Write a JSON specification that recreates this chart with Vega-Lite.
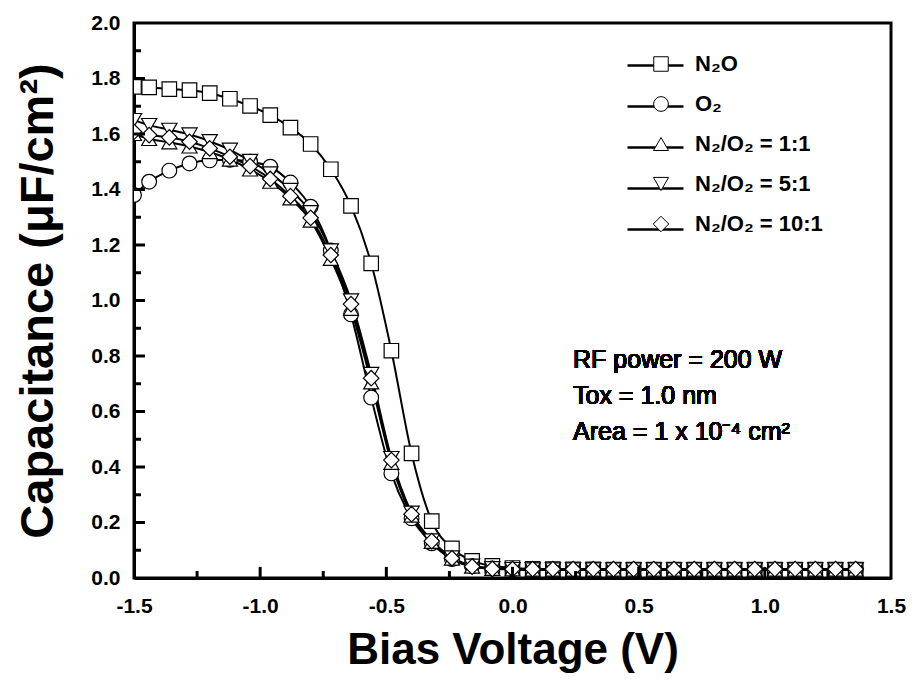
{
  "$schema": "https://vega.github.io/schema/vega-lite/v6.json",
  "width": 757,
  "height": 555,
  "autosize": "none",
  "padding": {"left": 134, "top": 23, "right": 23, "bottom": 105},
  "background": "white",
  "config": {"view": {"stroke": "black", "strokeWidth": 3}, "font": "Liberation Sans"},
  "resolve": {"axis": {"x": "independent", "y": "independent"}},
  "datasets": {
    "tk": [
      {"ax":"x","k":"M","t":-1},{"ax":"x","k":"M","t":-0.5},{"ax":"x","k":"M","t":0},{"ax":"x","k":"M","t":0.5},{"ax":"x","k":"M","t":1},
      {"ax":"x","k":"m","t":-1.25},{"ax":"x","k":"m","t":-0.75},{"ax":"x","k":"m","t":-0.25},{"ax":"x","k":"m","t":0.25},{"ax":"x","k":"m","t":0.75},{"ax":"x","k":"m","t":1.25},
      {"ax":"y","k":"M","t":0.2},{"ax":"y","k":"M","t":0.4},{"ax":"y","k":"M","t":0.6},{"ax":"y","k":"M","t":0.8},{"ax":"y","k":"M","t":1.0},{"ax":"y","k":"M","t":1.2},{"ax":"y","k":"M","t":1.4},{"ax":"y","k":"M","t":1.6},{"ax":"y","k":"M","t":1.8},
      {"ax":"y","k":"m","t":0.1},{"ax":"y","k":"m","t":0.3},{"ax":"y","k":"m","t":0.5},{"ax":"y","k":"m","t":0.7},{"ax":"y","k":"m","t":0.9},{"ax":"y","k":"m","t":1.1},{"ax":"y","k":"m","t":1.3},{"ax":"y","k":"m","t":1.5},{"ax":"y","k":"m","t":1.7},{"ax":"y","k":"m","t":1.9}
    ],
    "cv": [
      {"s":"N₂O","v":-1.5,"c":1.77},{"s":"N₂O","v":-1.44,"c":1.768},{"s":"N₂O","v":-1.36,"c":1.762},{"s":"N₂O","v":-1.28,"c":1.758},{"s":"N₂O","v":-1.2,"c":1.747},{"s":"N₂O","v":-1.12,"c":1.727},{"s":"N₂O","v":-1.04,"c":1.701},{"s":"N₂O","v":-0.96,"c":1.668},{"s":"N₂O","v":-0.88,"c":1.623},{"s":"N₂O","v":-0.8,"c":1.564},{"s":"N₂O","v":-0.72,"c":1.473},{"s":"N₂O","v":-0.64,"c":1.341},{"s":"N₂O","v":-0.56,"c":1.134},{"s":"N₂O","v":-0.48,"c":0.819},{"s":"N₂O","v":-0.4,"c":0.449},{"s":"N₂O","v":-0.32,"c":0.205},{"s":"N₂O","v":-0.24,"c":0.107},{"s":"N₂O","v":-0.16,"c":0.062},{"s":"N₂O","v":-0.08,"c":0.044},{"s":"N₂O","v":0,"c":0.036},{"s":"N₂O","v":0.08,"c":0.033},{"s":"N₂O","v":0.16,"c":0.032},{"s":"N₂O","v":0.24,"c":0.031},{"s":"N₂O","v":0.32,"c":0.031},{"s":"N₂O","v":0.4,"c":0.03},{"s":"N₂O","v":0.48,"c":0.03},{"s":"N₂O","v":0.56,"c":0.03},{"s":"N₂O","v":0.64,"c":0.03},{"s":"N₂O","v":0.72,"c":0.03},{"s":"N₂O","v":0.8,"c":0.03},{"s":"N₂O","v":0.88,"c":0.03},{"s":"N₂O","v":0.96,"c":0.03},{"s":"N₂O","v":1.04,"c":0.03},{"s":"N₂O","v":1.12,"c":0.03},{"s":"N₂O","v":1.2,"c":0.03},{"s":"N₂O","v":1.28,"c":0.03},{"s":"N₂O","v":1.36,"c":0.03},
      {"s":"O₂","v":-1.5,"c":1.38},{"s":"O₂","v":-1.44,"c":1.428},{"s":"O₂","v":-1.36,"c":1.468},{"s":"O₂","v":-1.28,"c":1.494},{"s":"O₂","v":-1.2,"c":1.505},{"s":"O₂","v":-1.12,"c":1.507},{"s":"O₂","v":-1.04,"c":1.5},{"s":"O₂","v":-0.96,"c":1.482},{"s":"O₂","v":-0.88,"c":1.425},{"s":"O₂","v":-0.8,"c":1.338},{"s":"O₂","v":-0.72,"c":1.18},{"s":"O₂","v":-0.64,"c":0.95},{"s":"O₂","v":-0.56,"c":0.65},{"s":"O₂","v":-0.48,"c":0.377},{"s":"O₂","v":-0.4,"c":0.215},{"s":"O₂","v":-0.32,"c":0.125},{"s":"O₂","v":-0.24,"c":0.068},{"s":"O₂","v":-0.16,"c":0.042},{"s":"O₂","v":-0.08,"c":0.034},{"s":"O₂","v":0,"c":0.031},{"s":"O₂","v":0.08,"c":0.03},{"s":"O₂","v":0.16,"c":0.03},{"s":"O₂","v":0.24,"c":0.03},{"s":"O₂","v":0.32,"c":0.03},{"s":"O₂","v":0.4,"c":0.03},{"s":"O₂","v":0.48,"c":0.03},{"s":"O₂","v":0.56,"c":0.03},{"s":"O₂","v":0.64,"c":0.03},{"s":"O₂","v":0.72,"c":0.03},{"s":"O₂","v":0.8,"c":0.03},{"s":"O₂","v":0.88,"c":0.03},{"s":"O₂","v":0.96,"c":0.03},{"s":"O₂","v":1.04,"c":0.03},{"s":"O₂","v":1.12,"c":0.03},{"s":"O₂","v":1.2,"c":0.03},{"s":"O₂","v":1.28,"c":0.03},{"s":"O₂","v":1.36,"c":0.03},
      {"s":"N₂/O₂ = 1:1","v":-1.5,"c":1.6},{"s":"N₂/O₂ = 1:1","v":-1.44,"c":1.582},{"s":"N₂/O₂ = 1:1","v":-1.36,"c":1.57},{"s":"N₂/O₂ = 1:1","v":-1.28,"c":1.555},{"s":"N₂/O₂ = 1:1","v":-1.2,"c":1.535},{"s":"N₂/O₂ = 1:1","v":-1.12,"c":1.508},{"s":"N₂/O₂ = 1:1","v":-1.04,"c":1.472},{"s":"N₂/O₂ = 1:1","v":-0.96,"c":1.428},{"s":"N₂/O₂ = 1:1","v":-0.88,"c":1.368},{"s":"N₂/O₂ = 1:1","v":-0.8,"c":1.288},{"s":"N₂/O₂ = 1:1","v":-0.72,"c":1.15},{"s":"N₂/O₂ = 1:1","v":-0.64,"c":0.97},{"s":"N₂/O₂ = 1:1","v":-0.56,"c":0.705},{"s":"N₂/O₂ = 1:1","v":-0.48,"c":0.415},{"s":"N₂/O₂ = 1:1","v":-0.4,"c":0.225},{"s":"N₂/O₂ = 1:1","v":-0.32,"c":0.13},{"s":"N₂/O₂ = 1:1","v":-0.24,"c":0.07},{"s":"N₂/O₂ = 1:1","v":-0.16,"c":0.041},{"s":"N₂/O₂ = 1:1","v":-0.08,"c":0.033},{"s":"N₂/O₂ = 1:1","v":0,"c":0.031},{"s":"N₂/O₂ = 1:1","v":0.08,"c":0.03},{"s":"N₂/O₂ = 1:1","v":0.16,"c":0.03},{"s":"N₂/O₂ = 1:1","v":0.24,"c":0.03},{"s":"N₂/O₂ = 1:1","v":0.32,"c":0.03},{"s":"N₂/O₂ = 1:1","v":0.4,"c":0.03},{"s":"N₂/O₂ = 1:1","v":0.48,"c":0.03},{"s":"N₂/O₂ = 1:1","v":0.56,"c":0.03},{"s":"N₂/O₂ = 1:1","v":0.64,"c":0.03},{"s":"N₂/O₂ = 1:1","v":0.72,"c":0.03},{"s":"N₂/O₂ = 1:1","v":0.8,"c":0.03},{"s":"N₂/O₂ = 1:1","v":0.88,"c":0.03},{"s":"N₂/O₂ = 1:1","v":0.96,"c":0.03},{"s":"N₂/O₂ = 1:1","v":1.04,"c":0.03},{"s":"N₂/O₂ = 1:1","v":1.12,"c":0.03},{"s":"N₂/O₂ = 1:1","v":1.2,"c":0.03},{"s":"N₂/O₂ = 1:1","v":1.28,"c":0.03},{"s":"N₂/O₂ = 1:1","v":1.36,"c":0.03},
      {"s":"N₂/O₂ = 5:1","v":-1.5,"c":1.65},{"s":"N₂/O₂ = 5:1","v":-1.44,"c":1.632},{"s":"N₂/O₂ = 5:1","v":-1.36,"c":1.615},{"s":"N₂/O₂ = 5:1","v":-1.28,"c":1.598},{"s":"N₂/O₂ = 5:1","v":-1.2,"c":1.574},{"s":"N₂/O₂ = 5:1","v":-1.12,"c":1.543},{"s":"N₂/O₂ = 5:1","v":-1.04,"c":1.503},{"s":"N₂/O₂ = 5:1","v":-0.96,"c":1.458},{"s":"N₂/O₂ = 5:1","v":-0.88,"c":1.398},{"s":"N₂/O₂ = 5:1","v":-0.8,"c":1.318},{"s":"N₂/O₂ = 5:1","v":-0.72,"c":1.18},{"s":"N₂/O₂ = 5:1","v":-0.64,"c":1.0},{"s":"N₂/O₂ = 5:1","v":-0.56,"c":0.735},{"s":"N₂/O₂ = 5:1","v":-0.48,"c":0.432},{"s":"N₂/O₂ = 5:1","v":-0.4,"c":0.235},{"s":"N₂/O₂ = 5:1","v":-0.32,"c":0.135},{"s":"N₂/O₂ = 5:1","v":-0.24,"c":0.074},{"s":"N₂/O₂ = 5:1","v":-0.16,"c":0.044},{"s":"N₂/O₂ = 5:1","v":-0.08,"c":0.035},{"s":"N₂/O₂ = 5:1","v":0,"c":0.032},{"s":"N₂/O₂ = 5:1","v":0.08,"c":0.031},{"s":"N₂/O₂ = 5:1","v":0.16,"c":0.031},{"s":"N₂/O₂ = 5:1","v":0.24,"c":0.031},{"s":"N₂/O₂ = 5:1","v":0.32,"c":0.031},{"s":"N₂/O₂ = 5:1","v":0.4,"c":0.031},{"s":"N₂/O₂ = 5:1","v":0.48,"c":0.031},{"s":"N₂/O₂ = 5:1","v":0.56,"c":0.031},{"s":"N₂/O₂ = 5:1","v":0.64,"c":0.031},{"s":"N₂/O₂ = 5:1","v":0.72,"c":0.031},{"s":"N₂/O₂ = 5:1","v":0.8,"c":0.031},{"s":"N₂/O₂ = 5:1","v":0.88,"c":0.031},{"s":"N₂/O₂ = 5:1","v":0.96,"c":0.031},{"s":"N₂/O₂ = 5:1","v":1.04,"c":0.031},{"s":"N₂/O₂ = 5:1","v":1.12,"c":0.031},{"s":"N₂/O₂ = 5:1","v":1.2,"c":0.031},{"s":"N₂/O₂ = 5:1","v":1.28,"c":0.031},{"s":"N₂/O₂ = 5:1","v":1.36,"c":0.031},
      {"s":"N₂/O₂ = 10:1","v":-1.5,"c":1.608},{"s":"N₂/O₂ = 10:1","v":-1.44,"c":1.596},{"s":"N₂/O₂ = 10:1","v":-1.36,"c":1.588},{"s":"N₂/O₂ = 10:1","v":-1.28,"c":1.572},{"s":"N₂/O₂ = 10:1","v":-1.2,"c":1.548},{"s":"N₂/O₂ = 10:1","v":-1.12,"c":1.518},{"s":"N₂/O₂ = 10:1","v":-1.04,"c":1.484},{"s":"N₂/O₂ = 10:1","v":-0.96,"c":1.438},{"s":"N₂/O₂ = 10:1","v":-0.88,"c":1.376},{"s":"N₂/O₂ = 10:1","v":-0.8,"c":1.298},{"s":"N₂/O₂ = 10:1","v":-0.72,"c":1.164},{"s":"N₂/O₂ = 10:1","v":-0.64,"c":0.987},{"s":"N₂/O₂ = 10:1","v":-0.56,"c":0.72},{"s":"N₂/O₂ = 10:1","v":-0.48,"c":0.425},{"s":"N₂/O₂ = 10:1","v":-0.4,"c":0.23},{"s":"N₂/O₂ = 10:1","v":-0.32,"c":0.133},{"s":"N₂/O₂ = 10:1","v":-0.24,"c":0.071},{"s":"N₂/O₂ = 10:1","v":-0.16,"c":0.041},{"s":"N₂/O₂ = 10:1","v":-0.08,"c":0.033},{"s":"N₂/O₂ = 10:1","v":0,"c":0.032},{"s":"N₂/O₂ = 10:1","v":0.08,"c":0.032},{"s":"N₂/O₂ = 10:1","v":0.16,"c":0.032},{"s":"N₂/O₂ = 10:1","v":0.24,"c":0.032},{"s":"N₂/O₂ = 10:1","v":0.32,"c":0.032},{"s":"N₂/O₂ = 10:1","v":0.4,"c":0.032},{"s":"N₂/O₂ = 10:1","v":0.48,"c":0.032},{"s":"N₂/O₂ = 10:1","v":0.56,"c":0.032},{"s":"N₂/O₂ = 10:1","v":0.64,"c":0.032},{"s":"N₂/O₂ = 10:1","v":0.72,"c":0.032},{"s":"N₂/O₂ = 10:1","v":0.8,"c":0.032},{"s":"N₂/O₂ = 10:1","v":0.88,"c":0.032},{"s":"N₂/O₂ = 10:1","v":0.96,"c":0.032},{"s":"N₂/O₂ = 10:1","v":1.04,"c":0.032},{"s":"N₂/O₂ = 10:1","v":1.12,"c":0.032},{"s":"N₂/O₂ = 10:1","v":1.2,"c":0.032},{"s":"N₂/O₂ = 10:1","v":1.28,"c":0.032},{"s":"N₂/O₂ = 10:1","v":1.36,"c":0.032}
    ]
  },
  "layer": [
    {
      "data": {"name": "cv"},
      "mark": {"type": "line", "strokeWidth": 2, "interpolate": "monotone", "clip": true},
      "encoding": {
        "x": {
          "field": "v", "type": "quantitative",
          "scale": {"domain": [-1.5, 1.5], "nice": false, "zero": false},
          "axis": {
            "orient": "bottom",
            "title": "Bias Voltage (V)",
            "values": [-1.5, -1, -0.5, 0, 0.5, 1, 1.5],
            "labelExpr": "replace(format(datum.value,'.1f'),'\u2212','-')",
            "labelFont": "Liberation Sans", "labelFontWeight": "bold", "labelFontSize": 21, "labelColor": "black",
            "labelPadding": 17, "labelFlush": false, "labelOverlap": false, "labelBound": false,
            "ticks": false,
            "domainColor": "black", "domainWidth": 3, "grid": false,
            "titleFont": "Liberation Sans", "titleFontWeight": "bold", "titleFontSize": 44, "titleColor": "black", "titlePadding": 12
          }
        },
        "y": {
          "field": "c", "type": "quantitative",
          "scale": {"domain": [0, 2], "nice": false},
          "axis": {
            "orient": "left",
            "title": "Capacitance (μF/cm²)",
            "values": [0, 0.2, 0.4, 0.6, 0.8, 1, 1.2, 1.4, 1.6, 1.8, 2],
            "format": ".1f",
            "labelFont": "Liberation Sans", "labelFontWeight": "bold", "labelFontSize": 21, "labelColor": "black",
            "labelPadding": 14, "labelFlush": false, "labelOverlap": false, "labelBound": false,
            "ticks": false,
            "domainColor": "black", "domainWidth": 3, "grid": false,
            "titleFont": "Liberation Sans", "titleFontWeight": "bold", "titleFontSize": 47, "titleColor": "black", "titlePadding": 28
          }
        },
        "color": {
          "field": "s", "type": "nominal",
          "scale": {"domain": ["N₂/O₂ = 10:1", "N₂/O₂ = 5:1", "N₂/O₂ = 1:1", "O₂", "N₂O"], "range": ["black", "black", "black", "black", "black"]},
          "legend": {
            "title": null, "orient": "none", "legendX": 492, "legendY": 13, "direction": "vertical", "padding": 0,
            "labelFont": "Liberation Sans", "labelFontWeight": "bold", "labelFontSize": 22, "labelOpacity": 0, "labelLimit": 1, "labelOffset": -40,
            "rowPadding": -2, "symbolType": "stroke", "symbolSize": 3136, "symbolStrokeWidth": 2.5, "symbolStrokeColor": "black"
          }
        }
      }
    },
    {
      "data": {"name": "cv"},
      "mark": {"type": "point", "filled": true, "fill": "white", "stroke": "black", "strokeWidth": 1.2, "opacity": 1, "clip": true},
      "encoding": {
        "x": {"field": "v", "type": "quantitative", "axis": null},
        "y": {"field": "c", "type": "quantitative", "axis": null},
        "shape": {
          "field": "s", "type": "nominal",
          "scale": {"domain": ["N₂O", "O₂", "N₂/O₂ = 1:1", "N₂/O₂ = 5:1", "N₂/O₂ = 10:1"], "range": ["square", "circle", "triangle-up", "triangle-down", "diamond"]},
          "legend": {
            "title": null, "orient": "none", "legendX": 516, "legendY": 30, "direction": "vertical", "padding": 0,
            "labelFont": "Liberation Sans", "labelFontWeight": "bold", "labelFontSize": 22, "labelColor": "black",
            "labelOffset": 23, "rowPadding": 18, "symbolSize": 100, "symbolStrokeWidth": 1,
            "symbolFillColor": "white", "symbolStrokeColor": "black",
            "encode": {"symbols": {"fill": {"value": "white"}, "stroke": {"value": "black"}, "strokeWidth": {"value": 1}, "size": {"value": 110}, "opacity": {"value": 1}}}
          }
        },
        "size": {
          "field": "s", "type": "nominal",
          "scale": {"domain": ["N₂O", "O₂", "N₂/O₂ = 1:1", "N₂/O₂ = 5:1", "N₂/O₂ = 10:1"], "range": [210, 240, 340, 340, 320]}
        }
      }
    },
    {
      "data": {"name": "tk"},
      "transform": [{"filter": "datum.ax == 'x' && datum.k == 'M'"}],
      "mark": {"type": "rule", "stroke": "black", "strokeWidth": 3},
      "encoding": {"x": {"field": "t", "type": "quantitative", "axis": null}, "y": {"datum": 0, "axis": null}, "y2": {"datum": 0.04}}
    },
    {
      "data": {"name": "tk"},
      "transform": [{"filter": "datum.ax == 'x' && datum.k == 'm'"}],
      "mark": {"type": "rule", "stroke": "black", "strokeWidth": 3},
      "encoding": {"x": {"field": "t", "type": "quantitative", "axis": null}, "y": {"datum": 0, "axis": null}, "y2": {"datum": 0.025}}
    },
    {
      "data": {"name": "tk"},
      "transform": [{"filter": "datum.ax == 'y' && datum.k == 'M'"}],
      "mark": {"type": "rule", "stroke": "black", "strokeWidth": 3},
      "encoding": {"y": {"field": "t", "type": "quantitative", "axis": null}, "x": {"datum": -1.5, "axis": null}, "x2": {"datum": -1.4563}}
    },
    {
      "data": {"name": "tk"},
      "transform": [{"filter": "datum.ax == 'y' && datum.k == 'm'"}],
      "mark": {"type": "rule", "stroke": "black", "strokeWidth": 3},
      "encoding": {"y": {"field": "t", "type": "quantitative", "axis": null}, "x": {"datum": -1.5, "axis": null}, "x2": {"datum": -1.4722}}
    },
    {
      "data": {"name": "cv"},
      "mark": {"type": "text", "align": "left", "baseline": "alphabetic", "fontSize": 25, "lineHeight": 36, "font": "Liberation Sans", "color": "black"},
      "encoding": {
        "x": {"datum": 0.24, "axis": null},
        "y": {"datum": 0.757, "axis": null},
        "text": {"value": ["RF power = 200 W", "Tox = 1.0 nm", "Area = 1 x 10⁻⁴ cm²"]}
      }
    }
  ]
}
